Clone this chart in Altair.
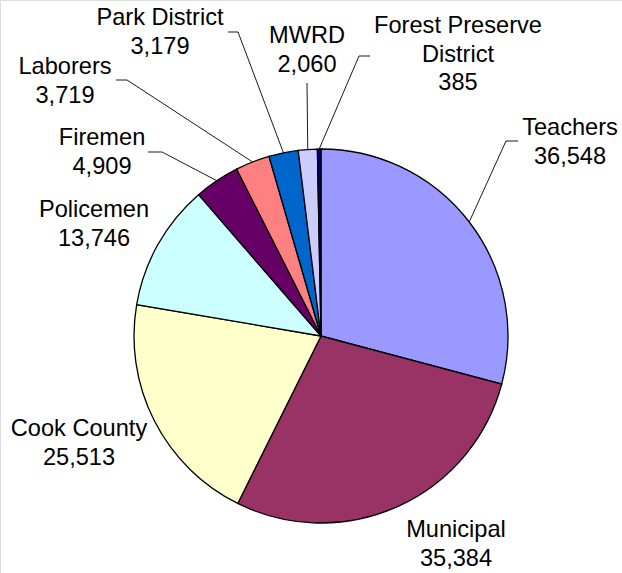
import math
import altair as alt
import pandas as pd

# ---- data ----
categories = ["Teachers", "Municipal", "Cook County", "Policemen", "Firemen",
              "Laborers", "Park District", "MWRD", "Forest Preserve District"]
values = [36548, 35384, 25513, 13746, 4909, 3719, 3179, 2060, 385]
label_text = ["Teachers", "Municipal", "Cook County", "Policemen", "Firemen",
              "Laborers", "Park District", "MWRD", "Forest Preserve\nDistrict"]
colors = ["#9999FF", "#993366", "#FFFFCC", "#CCFFFF", "#660066",
          "#FF8080", "#0066CC", "#CCCCFF", "#000080"]

# ---- layout (pixels) ----
CX, CY, R = 321, 336, 187
# label anchor: centre x, first-line baseline
label_pos = [(570, 135), (456, 537), (79, 436), (94, 217), (102, 145),
             (65, 74), (160, 25), (307, 43), (458, 33)]
# leader lines: list of fixed points before the pie-edge point (None = no leader)
leader_pts = [[(518, 141), (506, 141)], None, None, None,
              [(148, 152), (162, 152)], [(116, 80), (127, 80)],
              [(228, 32), (238, 32)], [(307, 83)], [(370, 56), (359, 56)]]

pie_df = pd.DataFrame({"cat": categories, "value": values,
                       "idx": list(range(len(values)))})

total = sum(values)
lab_rows, lead_rows = [], []
cum = 0
for i, (c, v) in enumerate(zip(categories, values)):
    mid = (cum + v / 2) / total * 2 * math.pi
    cum += v
    txt = f"{label_text[i]}\n{v:,}"
    lab_rows.append({"cat": c, "txt": txt, "x": label_pos[i][0], "y": label_pos[i][1]})
    if leader_pts[i]:
        pts = list(leader_pts[i]) + [(CX + R * math.sin(mid), CY - R * math.cos(mid))]
        for k, (px, py) in enumerate(pts):
            lead_rows.append({"cat": c, "k": k, "x": px, "y": py})

lab_df = pd.DataFrame(lab_rows)
lead_df = pd.DataFrame(lead_rows)

pie = alt.Chart(pie_df).mark_arc(
    outerRadius=R, stroke="black", strokeWidth=1.3
).encode(
    theta=alt.Theta("value:Q", stack=True),
    order=alt.Order("idx:Q"),
    color=alt.Color("cat:N", scale=alt.Scale(domain=categories, range=colors), legend=None),
    x=alt.value(CX), y=alt.value(CY),
)

leaders = alt.Chart(lead_df).mark_line(color="black", strokeWidth=0.9).encode(
    x=alt.X("x:Q", scale=None),
    y=alt.Y("y:Q", scale=None),
    detail="cat:N",
    order="k:Q",
)

labels = alt.Chart(lab_df).mark_text(
    font="Liberation Sans", fontSize=23.6, align="center", baseline="alphabetic",
    lineBreak="\n", lineHeight=28.5, color="black"
).encode(
    x=alt.X("x:Q", scale=None),
    y=alt.Y("y:Q", scale=None),
    text="txt:N",
)

chart = alt.layer(pie, leaders, labels).properties(
    width=622, height=573, autosize=alt.AutoSizeParams(type="none"), padding=0
).configure_view(stroke=None).configure(background="white")

chart.save("out.html", embed_options={"renderer": "svg", "actions": False})
